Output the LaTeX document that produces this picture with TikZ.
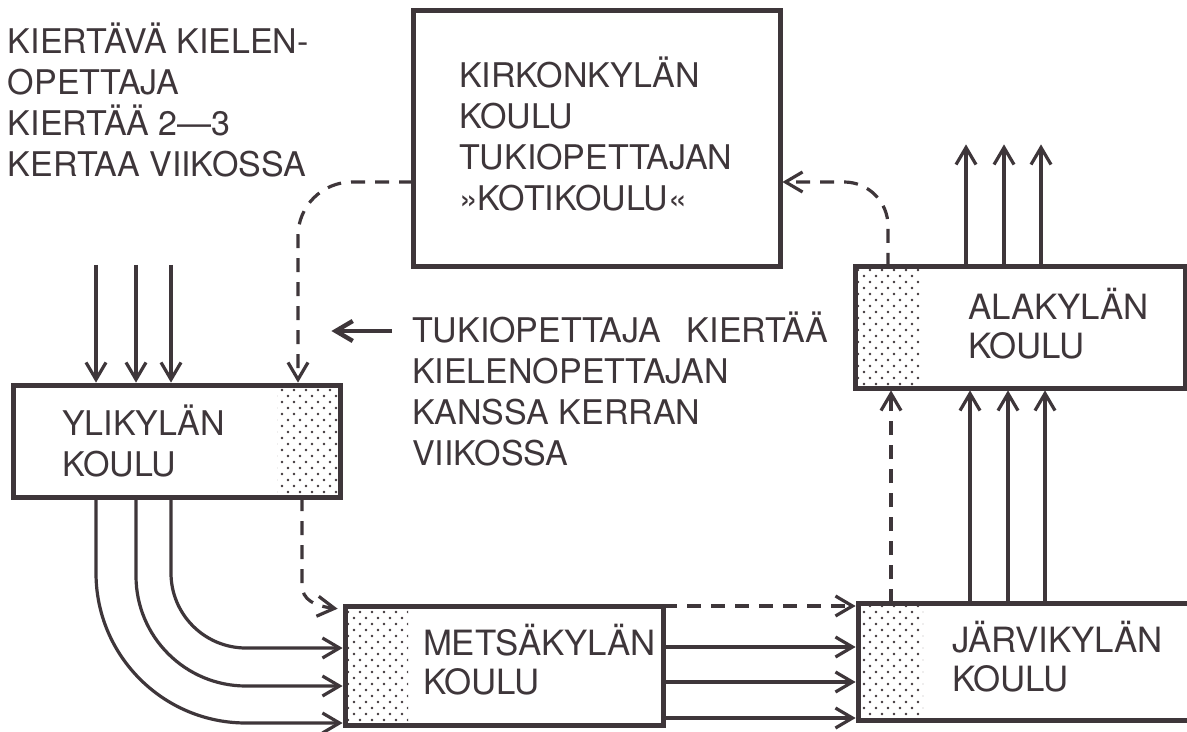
\documentclass[tikz,border=0pt]{standalone}
\usepackage{fontspec}
\setmainfont{TeX Gyre Heros}
\usetikzlibrary{arrows.meta,patterns}
\definecolor{ink}{RGB}{62,54,58}
\pgfdeclarepatternformonly{schooldots}{\pgfqpoint{-1pt}{-1pt}}{\pgfqpoint{5pt}{5pt}}{\pgfqpoint{6pt}{6pt}}{%
  \pgfpathcircle{\pgfqpoint{0pt}{0pt}}{0.65pt}%
  \pgfpathcircle{\pgfqpoint{3pt}{3pt}}{0.65pt}%
  \pgfusepath{fill}}
\tikzset{
  schoolbox/.style={draw=ink, line width=2.5pt, inner sep=0pt, outer sep=0pt},
  lbl/.style={text=ink, inner sep=0pt, outer sep=0pt, anchor=base west, align=left,
    font=\fontsize{17}{20.5}\selectfont},
  lblb/.style={lbl, font=\fontsize{17.4}{19.5}\selectfont},
  arr/.style={draw=ink, line width=1.6pt, shorten >=1.2pt, -{Straight Barb[length=8.5pt,width=10pt]}},
  dasharr/.style={arr, dash pattern=on 7pt off 5pt},
  dotfill/.style={pattern=schooldots, pattern color=ink}
}
\begin{document}
\begin{tikzpicture}[x=0.5pt,y=-0.5pt]
\useasboundingbox (0,0) rectangle (1187,732);
\clip (0,0) rectangle (1187,732);
\fill[white] (0,0) rectangle (1187,732);

% boxes
\node[schoolbox, minimum width=183.5pt, minimum height=128pt] (kirk) at (596.5,139) {};
\node[schoolbox, minimum width=163.5pt, minimum height=56pt] (yli) at (176.5,441) {};
\node[schoolbox, minimum width=159pt, minimum height=59.5pt] (mets) at (504,665.5) {};
\node[schoolbox, minimum width=173.5pt, minimum height=58.5pt] (jarvi) at (1031.5,661.5) {};
\node[schoolbox, minimum width=165pt, minimum height=60.5pt] (ala) at (1020,327.5) {};

% dotted parts
\fill[dotfill] ([xshift=-31.5pt,yshift=-1.3pt]yli.north east) rectangle ([xshift=-1.3pt,yshift=1.3pt]yli.south east);
\fill[dotfill] ([xshift=1.3pt,yshift=-1.3pt]mets.north west) rectangle ([xshift=31.5pt,yshift=1.3pt]mets.south west);
\fill[dotfill] ([xshift=1.3pt,yshift=-1.3pt]jarvi.north west) rectangle ([xshift=32.5pt,yshift=1.3pt]jarvi.south west);
\fill[dotfill] ([xshift=1.3pt,yshift=-1.3pt]ala.north west) rectangle ([xshift=33.5pt,yshift=1.3pt]ala.south west);

% texts (anchor = baseline of the last line)
\node[lbl] (tltext) at (8,177) {KIERTÄVÄ KIELEN-\\OPETTAJA\\KIERTÄÄ 2—3\\KERTAA VIIKOSSA};
\node[lbl] (kirktext) at (459,211) {KIRKONKYLÄN\\KOULU\\TUKIOPETTAJAN\\»KOTIKOULU«};
\node[lbl] (midtext) at (412,465) {TUKIOPETTAJA\hspace{13pt}KIERTÄÄ\\KIELENOPETTAJAN\\KANSSA KERRAN\\VIIKOSSA};
\node[lbl] (ylitext) at (62,476) {YLIKYLÄN\\KOULU};
\node[lblb] (metstext) at (423,694) {METSÄKYLÄN\\KOULU};
\node[lblb] (jarvitext) at (952,691) {JÄRVIKYLÄN\\KOULU};
\node[lblb] (alatext) at (968,358) {ALAKYLÄN\\KOULU};

% arrows into Ylikylän
\foreach \i/\x in {1/96,2/136,3/171} {
  \coordinate (yin\i) at (\x,265);
  \draw[arr] (yin\i) -- (yin\i |- yli.north);
}

% dashed: Kirkonkylä -> Ylikylä
\coordinate (kdy) at (0,182);
\coordinate (ydash) at (298,0);
\draw[dasharr, rounded corners=27pt] (kirk.west |- kdy) -| (ydash |- yli.north);

% dashed: Alakylä -> Kirkonkylä
\coordinate (adash) at (888,0);
\draw[dasharr, rounded corners=22pt] (adash |- ala.north) |- (kirk.east |- kdy);

% pointer arrow
\coordinate (ptr) at (329,331);
\draw[arr, line width=2.2pt] ([xshift=-10pt]midtext.west |- ptr) -- (ptr);

% curved arrows Ylikylä -> Metsäkylä
\coordinate (yo1) at (96,0);
\coordinate (yo2) at (136,0);
\coordinate (yo3) at (171,0);
\coordinate (mi1) at (0,723);
\coordinate (mi2) at (0,686);
\coordinate (mi3) at (0,648);
\draw[arr, rounded corners=75pt] (yo1 |- yli.south) |- (mets.west |- mi1);
\draw[arr, rounded corners=55pt] (yo2 |- yli.south) |- (mets.west |- mi2);
\draw[arr, rounded corners=37.5pt] (yo3 |- yli.south) |- (mets.west |- mi3);

% dashed Ylikylä -> Metsäkylä
\coordinate (yd2) at (302,0);
\draw[dasharr] (yd2 |- yli.south) -- (302,585) .. controls (302,600) and (315,606) .. ([xshift=-2.5pt,yshift=-1.5pt]mets.north west);

% Metsäkylä -> Järvikylä
\draw[dasharr] (mets.north east) -- (jarvi.west |- mets.north east);
\foreach \i/\y in {1/647,2/682,3/718} {
  \coordinate (mj\i) at (0,\y);
  \draw[arr] (mets.east |- mj\i) -- (jarvi.west |- mj\i);
}

% Järvikylä -> Alakylä
\coordinate (jd) at (891,0);
\draw[dasharr] (jd |- jarvi.north) -- (jd |- ala.south);
\foreach \i/\x in {1/970,2/1008,3/1045} {
  \coordinate (ja\i) at (\x,0);
  \draw[arr] (ja\i |- jarvi.north) -- (ja\i |- ala.south);
}

% out of Alakylä
\foreach \i/\x in {1/966,2/1004,3/1041} {
  \coordinate (aout\i) at (\x,142);
  \draw[arr] (aout\i |- ala.north) -- (aout\i);
}
\end{tikzpicture}
\end{document}
